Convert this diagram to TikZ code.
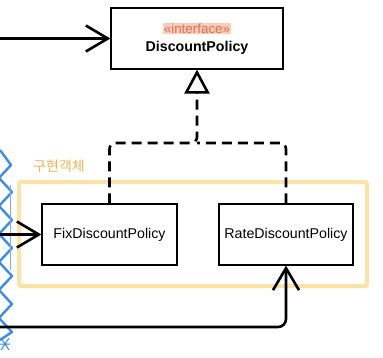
\documentclass[tikz,border=0pt]{standalone}
\usepackage{fontspec}
\setmainfont{Liberation Sans}
\newfontfamily\krfont{Noto Sans CJK KR}
\usepackage{xcolor}
\usetikzlibrary{arrows.meta, positioning, calc}
\definecolor{framegold}{RGB}{251, 227, 165}
\definecolor{handorange}{RGB}{240, 180, 80}
\definecolor{stereored}{RGB}{222, 110, 85}
\definecolor{stereohl}{RGB}{249, 205, 185}
\definecolor{scribbleblue}{RGB}{60, 140, 235}
\tikzset{
    classbox/.style={draw, line width=1.2pt, fill=white, minimum height=61pt, align=center, font=\fontsize{14.2}{17}\selectfont},
    uses/.style={line width=2.6pt, -{Straight Barb[length=22pt, width=26pt, line width=2.6pt]}},
    realize/.style={line width=2.6pt, dash pattern=on 10pt off 6pt, rounded corners=6pt, -{Triangle[open, length=24pt, width=25pt, line width=2.6pt]}},
}

\begin{document}
\begin{tikzpicture}[x=1pt, y=-1pt]
    \useasboundingbox (0,0) rectangle (383,357);

    % Scribble on the left edge
    \draw[scribbleblue, line width=2.4pt, line join=round]
        (0,150) -- (11,165) -- (-1,178) -- (12,192) -- (-1,206) -- (12,220)
        -- (-1,234) -- (12,248) -- (-1,262) -- (12,276) -- (-1,290) -- (12,304)
        -- (-1,318) -- (12,332) -- (0,340);
    \draw[scribbleblue!70, line width=0.6pt] (10,185) -- (10,270);
    \draw[scribbleblue, line width=1pt] (1,338) -- (9,350) (9,338) -- (1,350) (0,344) -- (10,344);

    % Implementations frame
    \draw[framegold, line width=4pt, rounded corners=2pt] (19,182) rectangle (367,286);
    \node[text=handorange, font=\krfont\fontsize{14}{14}\selectfont] (tag) at (59,166) {구현객체};

    % Classes
    \node[classbox, minimum width=172pt] (policy) at (197,38.5)
        {{\fboxsep=0.6pt\colorbox{stereohl}{\color{stereored}\fontsize{13.4}{13.4}\selectfont «interface»}}\\[1pt]\textbf{DiscountPolicy}};
    \node[classbox, minimum width=135pt] (fix) at (109.5,234.5) {FixDiscountPolicy};
    \node[classbox, minimum width=134pt] (rate) at (286,234.5) {RateDiscountPolicy};

    % Realization
    \coordinate (join) at (197,143);
    \draw[realize] (fix.north) |- (join) -- (policy.south);
    \draw[realize, -] (rate.north) |- (join);

    % Incoming references
    \coordinate (inTop) at (0,38.5);
    \coordinate (inFix) at (0,234.5);
    \coordinate (inBottom) at (0,327);
    \draw[uses] (inTop) -- (policy.west);
    \draw[uses] (inFix) -- (fix.west);
    \draw[uses, rounded corners=8pt] (inBottom) -| (rate.south);
\end{tikzpicture}
\end{document}
